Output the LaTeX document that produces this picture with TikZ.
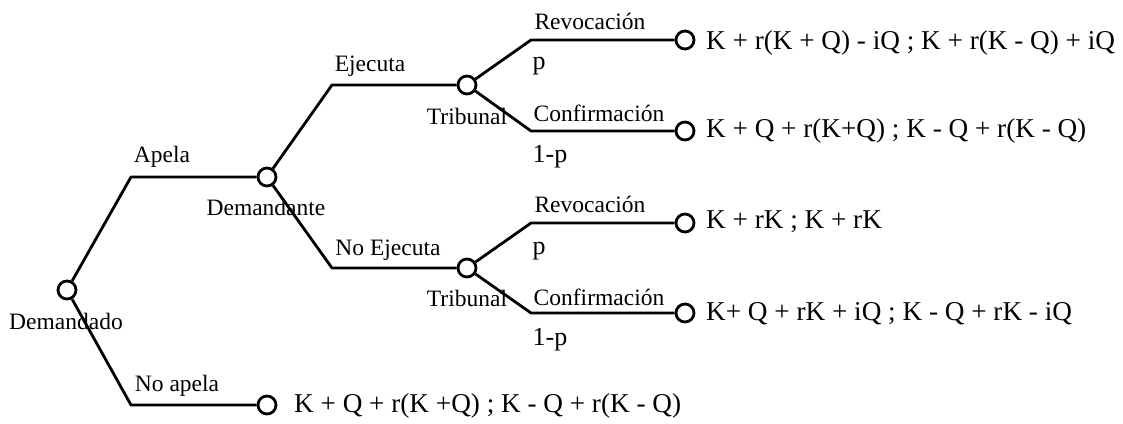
\documentclass[tikz,border=0pt]{standalone}
\usepackage{fontspec}
\setmainfont{Liberation Serif}
\begin{document}
\begin{tikzpicture}[x=1pt,y=-1pt,
  dot/.style={circle,draw,line width=2.8pt,fill=white,minimum size=18pt,inner sep=0pt},
  br/.style={line width=2.8pt,line join=round},
  lbl/.style={font=\fontsize{23.5}{23.5}\selectfont,inner sep=0pt},
  prob/.style={font=\fontsize{26}{26}\selectfont,inner sep=0pt},
  pay/.style={font=\fontsize{27.2}{27.2}\selectfont,inner sep=0pt,anchor=west}]
\useasboundingbox (0,0) rectangle (1123,423);
% nodes
\node[dot] (d0) at (67,290) {};
\node[dot] (d1) at (267,177) {};
\node[dot] (t1) at (467,85) {};
\node[dot] (t2) at (467,268) {};
\node[dot] (e1) at (685,40) {};
\node[dot] (e2) at (685,131) {};
\node[dot] (e3) at (685,223) {};
\node[dot] (e4) at (685,313) {};
\node[dot] (e5) at (267,405) {};
% corners
\coordinate (cA) at (131,177);
\coordinate (cN) at (131,405);
\coordinate (cE) at (332,85);
\coordinate (cNE) at (332,268);
\coordinate (cR1) at (531,40);
\coordinate (cC1) at (531,131);
\coordinate (cR2) at (531,223);
\coordinate (cC2) at (531,313);
% branches
\draw[br] (d0) -- (cA) -- (d1);
\draw[br] (d0) -- (cN) -- (e5);
\draw[br] (d1) -- (cE) -- (t1);
\draw[br] (d1) -- (cNE) -- (t2);
\draw[br] (t1) -- (cR1) -- (e1);
\draw[br] (t1) -- (cC1) -- (e2);
\draw[br] (t2) -- (cR2) -- (e3);
\draw[br] (t2) -- (cC2) -- (e4);
% labels
\node[lbl] (lA) at (162,157) {Apela};
\node[lbl] (lN) at (177,386) {No apela};
\node[lbl] (lD0) at (66,321) {Demandado};
\node[lbl] (lD1) at (266,207) {Demandante};
\node[lbl] (lE) at (370,66) {Ejecuta};
\node[lbl] (lNE) at (388,250) {No Ejecuta};
\node[lbl] (lT1) at (467,116) {Tribunal};
\node[lbl] (lT2) at (467,298) {Tribunal};
\node[lbl] (lR1) at (590,21) {Revocación};
\node[lbl] (lR2) at (590,204) {Revocación};
\node[lbl] (lC1) at (599,113) {Confirmación};
\node[lbl] (lC2) at (599,297) {Confirmación};
\node[prob] (lp1) at (539,66) {p};
\node[prob] (lp2) at (539,251) {p};
\node[prob] (lq1) at (550,157) {1-p};
\node[prob] (lq2) at (550,340) {1-p};
% payoffs
\node[pay] (p1) at (706,43) {K + r(K + Q) - iQ ; K + r(K - Q) + iQ};
\node[pay] (p2) at (706,131) {K + Q + r(K+Q) ; K - Q + r(K - Q)};
\node[pay] (p3) at (706,222) {K + rK ; K + rK};
\node[pay] (p4) at (706,314) {K+ Q + rK + iQ ; K - Q + rK - iQ};
\node[pay] (p5) at (294,406) {K + Q + r(K +Q) ; K - Q + r(K - Q)};
\end{tikzpicture}
\end{document}
